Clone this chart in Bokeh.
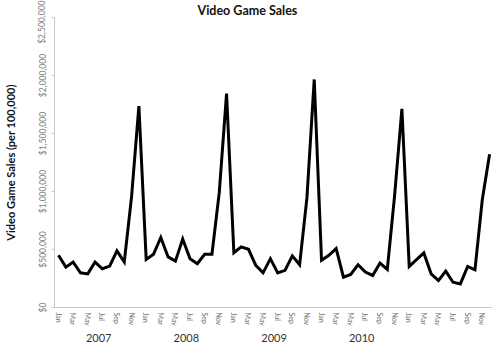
from bokeh.plotting import figure
from bokeh.models import (ColumnDataSource, FixedTicker, LinearAxis, NumeralTickFormatter,
                          Range1d, Title)
from bokeh.embed import file_html
from bokeh.resources import INLINE

# ---- data ----
years = ["2007", "2008", "2009", "2010", "2011"]
year_labels_shown = ["2007", "2008", "2009", "2010"]
months = ["Jan", "Feb", "Mar", "Apr", "May", "Jun",
          "Jul", "Aug", "Sep", "Oct", "Nov", "Dec"]
sales_2007 = [450000, 348000, 392000, 299000, 290000, 392000,
              334000, 357000, 488000, 392000, 955000, 1736000]
sales_2008 = [415000, 459000, 604000, 436000, 400000, 590000,
              421000, 377000, 459000, 459000, 990000, 1844000]
sales_2009 = [473000, 523000, 502000, 363000, 299000, 421000,
              299000, 320000, 445000, 369000, 945000, 1966000]
sales_2010 = [407000, 450000, 508000, 261000, 285000, 369000,
              305000, 276000, 383000, 328000, 965000, 1713000]
sales_2011 = [354000, 412000, 470000, 290000, 232000, 314000,
              218000, 203000, 354000, 325000, 929000, 1321000]
y_ticks = [0, 500000, 1000000, 1500000, 2000000, 2500000]

sales = sales_2007 + sales_2008 + sales_2009 + sales_2010 + sales_2011
idx = list(range(len(sales)))
src = ColumnDataSource(dict(x=idx, y=sales))

FONT = "Lato"

p = figure(width=492, height=344, output_backend="svg", toolbar_location=None,
           x_range=Range1d(-0.55, 59.4), y_range=Range1d(0, 2500000),
           min_border_left=49, min_border_right=0, min_border_top=15,
           min_border_bottom=0, x_axis_type=None, y_axis_type=None)
p.outline_line_color = None
p.xgrid.grid_line_color = None
p.ygrid.grid_line_color = None
p.background_fill_color = "white"
p.border_fill_color = "white"

p.line("x", "y", source=src, line_color="black", line_width=3, line_join="miter")

# y axis
yax = LinearAxis(ticker=FixedTicker(ticks=y_ticks),
                 formatter=NumeralTickFormatter(format="$0,0"))
yax.major_label_orientation = "vertical"
yax.major_label_text_font = FONT
yax.major_label_text_font_size = "8.5px"
yax.major_label_text_color = "#808080"
yax.major_label_standoff = 4
yax.axis_line_color = "#c8c8c8"
yax.major_tick_line_color = "#c8c8c8"
yax.major_tick_out = 3
yax.major_tick_in = 0
yax.minor_tick_line_color = None
yax.axis_label = "Video Game Sales (per 100,000)"
yax.axis_label_text_font = FONT
yax.axis_label_text_font_style = "bold"
yax.axis_label_text_font_size = "11px"
yax.axis_label_text_color = "#111111"
yax.axis_label_standoff = 18
p.add_layout(yax, "left")

# month axis
month_ticks = [i for i in idx if i % 2 == 0]
mx = LinearAxis(ticker=FixedTicker(ticks=month_ticks),
                major_label_overrides={i: months[i % 12] for i in month_ticks})
mx.major_label_orientation = "vertical"
mx.major_label_text_font = FONT
mx.major_label_text_font_size = "7px"
mx.major_label_text_color = "#707070"
mx.major_label_standoff = 5
mx.major_tick_out = 0
mx.major_tick_in = 0
mx.axis_line_color = "#c8c8c8"
mx.major_tick_line_color = None
mx.minor_tick_line_color = None
p.add_layout(mx, "below")

# year axis
year_ticks = [12 * k + 5.5 for k in range(len(year_labels_shown))]
yrx = LinearAxis(ticker=FixedTicker(ticks=year_ticks),
                 major_label_overrides={t: lab for t, lab in zip(year_ticks, year_labels_shown)})
yrx.major_label_text_font = FONT
yrx.major_label_text_font_size = "11px"
yrx.major_label_text_color = "#333333"
yrx.major_label_standoff = 5
yrx.major_tick_out = 0
yrx.major_tick_in = 0
yrx.axis_line_color = None
yrx.major_tick_line_color = None
yrx.minor_tick_line_color = None
p.add_layout(yrx, "below")

p.add_layout(Title(text="Video Game Sales", align="left", offset=143,
                   text_font=FONT, text_font_style="bold", text_font_size="12.5px",
                   text_color="#111111", standoff=0), "above")

open("out.html", "w").write(file_html(p, INLINE))
